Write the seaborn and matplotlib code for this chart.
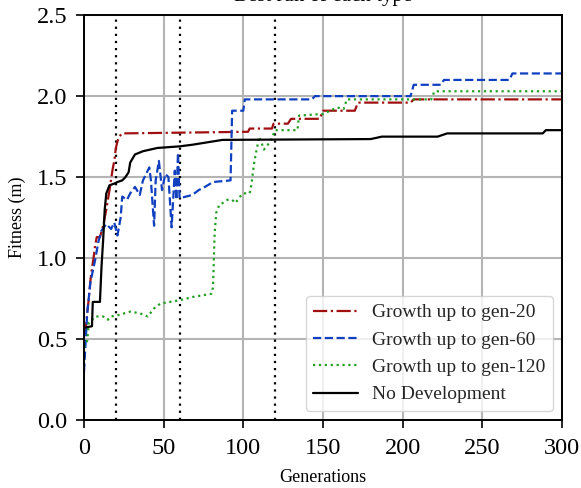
import pandas as pd
import matplotlib.pyplot as plt
import seaborn as sns

# Best run of each type
red_gen = [0, 1, 2, 3, 4, 5, 6, 7, 8, 10, 12, 14, 16, 18, 19, 20, 21, 22, 24,
           103, 104, 118, 119, 128, 130, 148, 150, 170, 172, 205, 207, 300]
red_fit = [0.52, 0.55, 0.66, 0.75, 0.86, 0.94, 1.00, 1.08, 1.13, 1.13, 1.20, 1.30,
           1.42, 1.55, 1.60, 1.68, 1.72, 1.75, 1.77,
           1.78, 1.80, 1.80, 1.83, 1.83, 1.86, 1.86, 1.91, 1.91, 1.96, 1.96, 1.98, 1.98]

blue_gen = [0, 2, 4, 7, 9, 11, 14, 17, 19, 21, 23, 24, 27, 29, 32, 35, 37, 39, 41, 42,
            44, 45, 47, 49, 51, 53, 55, 57, 58, 59, 60, 64, 68, 72, 76, 81, 92, 93, 100,
            101, 143, 145, 205, 207, 224, 226, 267, 269, 300]
blue_fit = [0.30, 0.66, 0.85, 0.99, 1.10, 1.17, 1.21, 1.18, 1.22, 1.14, 1.25, 1.38, 1.36,
            1.40, 1.44, 1.39, 1.48, 1.52, 1.56, 1.48, 1.20, 1.48, 1.60, 1.42, 1.52, 1.50,
            1.19, 1.54, 1.36, 1.65, 1.37, 1.38, 1.39, 1.42, 1.44, 1.47, 1.48, 1.91, 1.91,
            1.98, 1.98, 2.00, 2.00, 2.07, 2.07, 2.10, 2.10, 2.14, 2.14]

green_gen = [0, 2, 3, 7, 12, 15, 17, 22, 29, 35, 40, 44, 48, 54, 60, 64, 68, 74, 80, 81,
             82, 83, 85, 87, 90, 93, 95, 98, 100, 104, 105, 107, 110, 113, 117, 120, 134,
             135, 150, 159, 163, 165, 218, 220, 300]
green_fit = [0.45, 0.49, 0.60, 0.64, 0.64, 0.62, 0.64, 0.65, 0.67, 0.66, 0.64, 0.69, 0.72,
             0.73, 0.74, 0.75, 0.76, 0.77, 0.78, 0.82, 1.15, 1.28, 1.33, 1.34, 1.36, 1.36,
             1.34, 1.38, 1.40, 1.40, 1.45, 1.60, 1.75, 1.67, 1.72, 1.79, 1.79, 1.88, 1.89,
             1.93, 1.92, 1.98, 1.98, 2.03, 2.03]

black_gen = [0, 5, 5.5, 10, 11, 12, 13, 14, 16, 19, 21, 24, 26, 28, 29, 32, 37, 46, 60, 68,
             87, 180, 187, 222, 228, 288, 290, 300]
black_fit = [0.57, 0.58, 0.73, 0.73, 0.95, 1.11, 1.30, 1.40, 1.45, 1.46, 1.47, 1.48, 1.50,
             1.53, 1.59, 1.64, 1.66, 1.68, 1.69, 1.70, 1.73, 1.735, 1.75, 1.75, 1.77, 1.77,
             1.79, 1.79]

growth_ends = [20, 60, 120]

series = [
    ("Growth up to gen-20", red_gen, red_fit, "#a01010", "-."),
    ("Growth up to gen-60", blue_gen, blue_fit, "#1040c0", "--"),
    ("Growth up to gen-120", green_gen, green_fit, "#20a020", ":"),
    ("No Development", black_gen, black_fit, "black", "-"),
]

sns.set_theme(style="whitegrid")
plt.rcParams['font.family'] = ['Liberation Serif', 'DejaVu Serif']

fig = plt.figure(figsize=(5.81, 4.88), dpi=100)
ax = fig.add_axes([0.1446, 0.139, 0.8224, 0.830])

for label, g, f, color, ls in series:
    df = pd.DataFrame({'gen': g, 'fit': f})
    sns.lineplot(data=df, x='gen', y='fit', ax=ax, color=color, linestyle=ls,
                 linewidth=1.6, sort=False, estimator=None, label=label)

for g in growth_ends:
    ax.axvline(g, color='black', linestyle=(0, (1, 2.2)), linewidth=1.6, zorder=1)

ax.set_xlim(0, 300)
ax.set_ylim(0, 2.5)
ax.set_xticks(range(0, 301, 50))
ax.set_yticks([0.0, 0.5, 1.0, 1.5, 2.0, 2.5])
ax.set_yticklabels([f"{v:.1f}" for v in [0.0, 0.5, 1.0, 1.5, 2.0, 2.5]])
ax.grid(True, color='#b4b4b4', linewidth=1.5)
ax.set_axisbelow(True)
for sp in ax.spines.values():
    sp.set_color('black')
    sp.set_linewidth(1.4)
ax.tick_params(axis='both', which='major', direction='out', length=6, width=1.2,
               color='black', labelsize=17.5, labelcolor='black',
               bottom=True, left=True)
ax.tick_params(axis='x', pad=7)
ax.tick_params(axis='y', pad=6)

ax.set_xlabel('Generations', fontsize=13, color='black', labelpad=7)
ax.set_ylabel('Fitness (m)', fontsize=13, color='black', labelpad=8)
# the title sits mostly above the figure edge, as in the original
ax.set_title('Best run of each type', fontsize=15, color='black', pad=10.5)

leg = ax.legend(loc='lower right', fontsize=14, handlelength=2.3, frameon=True,
                borderaxespad=0.46, labelspacing=0.5, handletextpad=0.7)
leg.get_frame().set_edgecolor('#cccccc')
leg.get_frame().set_linewidth(1.0)

fig.savefig('out.png', dpi=100)
